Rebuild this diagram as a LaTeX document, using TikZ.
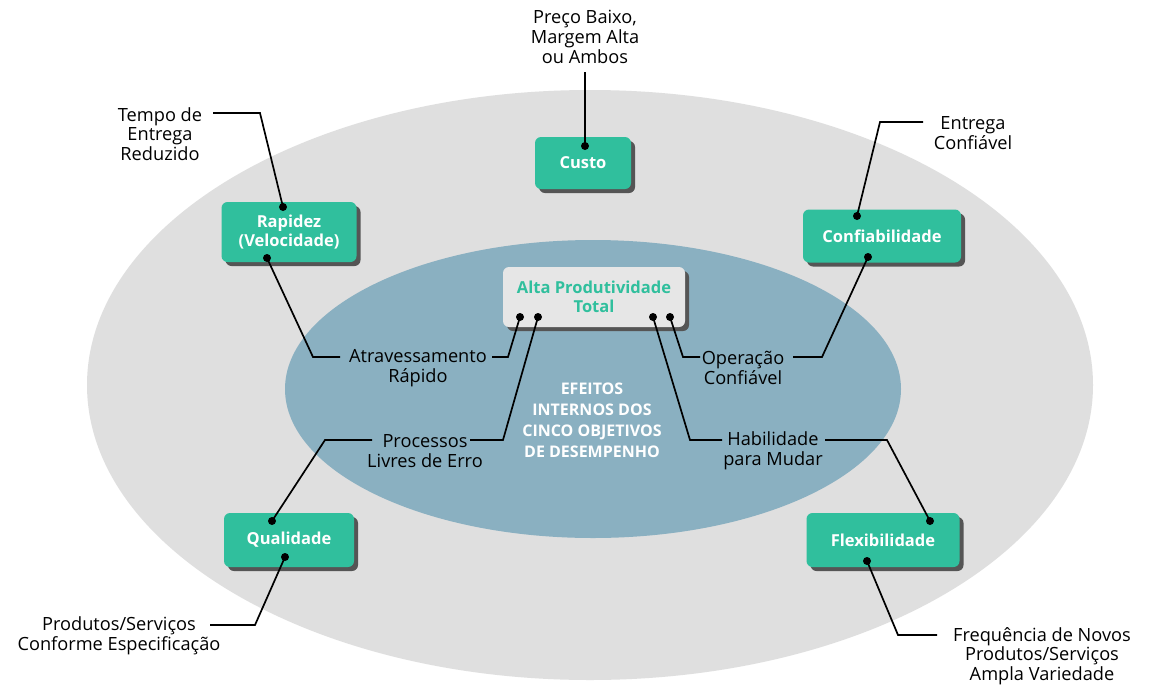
\documentclass[tikz,border=0pt]{standalone}
\usepackage{fontspec}
\setmainfont{Open Sans}
\usetikzlibrary{shadows}
\definecolor{outergray}{HTML}{DFDFDF}
\definecolor{innerblue}{HTML}{8AB0C1}
\definecolor{boxgreen}{HTML}{30BF9D}
\definecolor{boxlight}{HTML}{E6E6E6}
\definecolor{shadowgray}{HTML}{555555}
\tikzset{
  goal/.style={rounded corners=6pt, fill=boxgreen, text=white, align=center,
    inner sep=0pt, font=\bfseries\fontsize{16.5}{19.5}\selectfont,
    drop shadow={shadow xshift=4pt, shadow yshift=-4pt, fill=shadowgray, opacity=1}},
  effect/.style={font=\fontsize{18.2}{19.7}\selectfont, align=center, inner sep=0pt},
  pin/.style={circle, fill=black, inner sep=0pt, minimum size=8pt},
  link/.style={line width=1.7pt, black, line join=miter}
}
\begin{document}
\begin{tikzpicture}[x=1pt,y=-1pt]
\useasboundingbox[fill=white] (0,0) rectangle (1152,686);

% the two performance zones
\fill[outergray] (590,385) ellipse [x radius=503pt, y radius=295pt];
\fill[innerblue] (593,389) ellipse [x radius=308pt, y radius=149pt];

% five performance objectives
\node[goal, minimum width=96pt, minimum height=52pt] (custo) at (583,163) {Custo};
\node[goal, minimum width=135pt, minimum height=60pt] (rapidez) at (289,232) {Rapidez\\(Velocidade)};
\node[goal, minimum width=158pt, minimum height=53pt] (confiab) at (882,236) {Confiabilidade};
\node[goal, minimum width=130pt, minimum height=54pt] (qualidade) at (289,540) {Qualidade};
\node[goal, minimum width=153pt, minimum height=54pt] (flex) at (883,540) {Flexibilidade};

% central result
\node[rounded corners=6pt, fill=boxlight, text=boxgreen, align=center, inner sep=0pt,
      minimum width=182pt, minimum height=60pt,
      font=\bfseries\fontsize{16.5}{19.5}\selectfont,
      drop shadow={shadow xshift=4pt, shadow yshift=-4pt, fill=shadowgray, opacity=1}]
      (alta) at (594,297) {Alta Produtividade\\Total};

\node[text=white, align=center, inner sep=0pt, font=\bfseries\fontsize{16}{21}\selectfont]
      (efeitos) at (592,420) {EFEITOS\\INTERNOS DOS\\CINCO OBJETIVOS\\DE DESEMPENHO};

% external and internal effects
\node[effect] (preco) at (585,37) {Preço Baixo,\\Margem Alta\\ou Ambos};
\node[effect] (tempo) at (160,134) {Tempo de\\Entrega\\Reduzido};
\node[effect] (entrega) at (973,133) {Entrega\\Confiável};
\node[effect] (atrav) at (418,368) {Atravessamento\\Rápido};
\node[effect] (operacao) at (743,368) {Operação\\Confiável};
\node[effect] (processos) at (425,451) {Processos\\Livres de Erro};
\node[effect] (habilidade) at (773,451) {Habilidade\\para Mudar};
\node[effect] (produtos) at (119,636) {Produtos/Serviços\\Conforme Especificação};
\node[effect] (frequencia) at (1042,656) {Frequência de Novos\\Produtos/Serviços\\Ampla Variedade};

% connection pins
\node[pin] (custo-t) at (585,146) {};
\node[pin] (rapidez-t) at (283,207) {};
\node[pin] (rapidez-b) at (267,258) {};
\node[pin] (confiab-t) at (857,216) {};
\node[pin] (confiab-b) at (868,257) {};
\node[pin] (qualidade-t) at (272,521) {};
\node[pin] (qualidade-b) at (285,557) {};
\node[pin] (flex-t) at (930,521) {};
\node[pin] (flex-b) at (867,561) {};
\node[pin] (alta-1) at (520,317) {};
\node[pin] (alta-2) at (538,317) {};
\node[pin] (alta-3) at (653,317) {};
\node[pin] (alta-4) at (670,317) {};

% free ends of the leader lines beside the labels
\coordinate (preco-s) at (585,72);
\coordinate (tempo-e) at (213,113);
\coordinate (entrega-w) at (923,122);
\coordinate (atrav-w) at (340,357);
\coordinate (atrav-e) at (492,357);
\coordinate (operacao-w) at (700,357);
\coordinate (operacao-e) at (793,357);
\coordinate (processos-w) at (372,440);
\coordinate (processos-e) at (470,440);
\coordinate (habilidade-w) at (722,440);
\coordinate (habilidade-e) at (825,440);
\coordinate (produtos-e) at (210,625);
\coordinate (frequencia-w) at (937,635);

% leader lines
\draw[link] (preco-s) -- (custo-t.center);
\draw[link] (tempo-e) -- (260,113) -- (rapidez-t.center);
\draw[link] (rapidez-b.center) -- (313,357) -- (atrav-w);
\draw[link] (atrav-e) -- (508,357) -- (alta-1.center);
\draw[link] (alta-2.center) -- (503,440) -- (processos-e);
\draw[link] (processos-w) -- (325,440) -- (qualidade-t.center);
\draw[link] (qualidade-b.center) -- (255,625) -- (produtos-e);
\draw[link] (alta-4.center) -- (683,357) -- (operacao-w);
\draw[link] (operacao-e) -- (822,357) -- (confiab-b.center);
\draw[link] (confiab-t.center) -- (880,122) -- (entrega-w);
\draw[link] (alta-3.center) -- (690,440) -- (habilidade-w);
\draw[link] (habilidade-e) -- (887,440) -- (flex-t.center);
\draw[link] (flex-b.center) -- (898,635) -- (frequencia-w);
\end{tikzpicture}
\end{document}
